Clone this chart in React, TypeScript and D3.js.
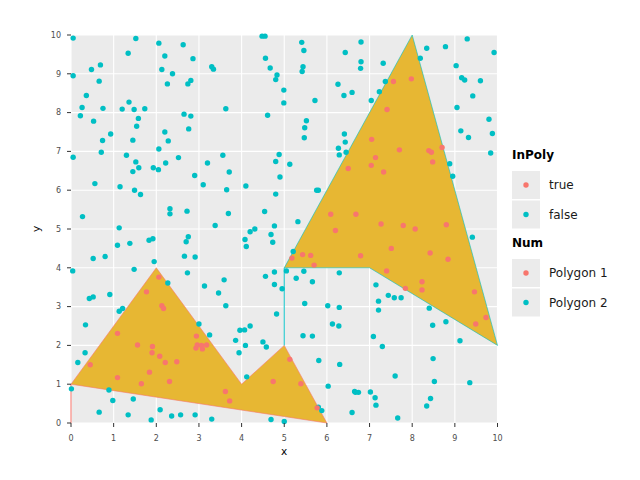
import * as d3 from 'd3';

// polygon outlines (closing spike back to the start point included)
const poly1X = [0, 0, 2, 4, 5, 6, 0];
const poly1Y = [0, 1, 4, 1, 2, 0, 1];
const poly2X = [5, 5, 8, 10, 7, 5];
const poly2Y = [2, 4, 10, 2, 4, 4];

// points outside both polygons (InPoly = false)
const outsidePts: [number, number][] = [
  [0.05, 9.92], [1.52, 9.91], [2.06, 9.79], [2.63, 9.75], [1.34, 9.53], [2.2, 9.46], [2.86, 9.39],
  [0.69, 9.23], [0.48, 9.11], [2.13, 9.11], [2.38, 9.0], [3.3, 9.18], [3.34, 9.12], [0.05, 8.95],
  [0.66, 8.81], [2.26, 8.74], [2.74, 8.74], [2.81, 8.83], [0.36, 8.44], [1.36, 8.27], [0.26, 8.13],
  [0.75, 8.11], [1.2, 8.09], [1.48, 8.08], [1.73, 8.1], [0.22, 7.92], [2.65, 7.96], [2.81, 7.91],
  [1.58, 7.85], [0.53, 7.78], [1.54, 7.65], [2.2, 7.5], [0.93, 7.45], [2.76, 7.58], [0.74, 7.28],
  [2.28, 7.27], [1.45, 7.29], [2.06, 7.06], [0.71, 6.98], [0.05, 6.85], [1.3, 6.9], [2.52, 6.84],
  [2.22, 6.7], [1.52, 6.73], [1.59, 6.58], [1.45, 6.48], [1.93, 6.58], [2.05, 6.53], [3.2, 6.7],
  [2.9, 6.38], [3.1, 6.14], [0.56, 6.17], [1.15, 6.09], [1.49, 6.0], [1.63, 5.89], [2.32, 5.52],
  [2.32, 5.39], [2.72, 5.46], [0.27, 5.32], [1.13, 5.03], [3.38, 5.09],
  [4.48, 9.97], [4.55, 9.97], [5.41, 9.81], [5.46, 9.6], [6.43, 9.55], [4.56, 9.4], [4.67, 9.15],
  [5.44, 9.18], [5.42, 9.06], [4.83, 8.97], [4.8, 8.85], [6.26, 8.73], [4.99, 8.58], [6.4, 8.44],
  [6.59, 8.52], [4.99, 8.25], [5.72, 8.31], [3.63, 8.1], [4.61, 7.93], [5.52, 7.79], [5.48, 7.61],
  [5.47, 7.35], [6.41, 7.45], [6.43, 7.24], [6.27, 7.08], [6.29, 6.91], [6.45, 6.98], [3.56, 6.9],
  [4.88, 6.92], [4.8, 6.74], [5.13, 6.67], [3.71, 6.47], [4.9, 6.34], [4.1, 6.11], [3.65, 6.01],
  [4.8, 5.9], [5.76, 6.0], [5.8, 6.0], [3.69, 5.4], [4.54, 5.45], [4.31, 5.0], [4.2, 4.93],
  [4.77, 5.08], [5.32, 5.19],
  [6.8, 9.82], [9.29, 9.9], [8.34, 9.66], [8.78, 9.7], [9.92, 9.55], [6.8, 9.31], [6.79, 9.14],
  [7.32, 9.27], [8.19, 9.4], [9.03, 9.21], [7.37, 8.8], [7.23, 8.54], [7.04, 8.31], [9.16, 8.9],
  [9.23, 8.84], [9.6, 8.82], [9.42, 8.43], [9.05, 8.13], [9.8, 7.83], [9.14, 7.53], [9.32, 7.36],
  [9.88, 7.46], [9.84, 6.96], [8.88, 6.68], [8.95, 6.36],
  [1.83, 4.71], [1.92, 4.75], [1.09, 4.58], [1.38, 4.63], [2.75, 4.8], [2.7, 4.67], [0.52, 4.24],
  [0.8, 4.29], [2.66, 4.3], [2.91, 4.28], [1.95, 4.16], [0.04, 3.92], [1.48, 3.96], [2.73, 3.87],
  [3.13, 3.53], [2.27, 3.61], [0.43, 3.21], [0.52, 3.25], [0.91, 3.31], [1.13, 2.88], [1.21, 2.95],
  [0.34, 2.53], [3.0, 2.55], [3.25, 2.27], [0.33, 1.81], [0.16, 1.56], [0.01, 0.88], [0.89, 0.85],
  [0.98, 0.58], [1.46, 0.62], [0.66, 0.28], [1.34, 0.21], [2.09, 0.34], [1.88, 0.08], [2.36, 0.18],
  [2.57, 0.21], [2.91, 0.21], [3.3, 0.1],
  [4.08, 4.73], [4.11, 4.55], [4.69, 4.86], [4.73, 4.66], [5.21, 4.42], [5.05, 3.92], [4.77, 3.89],
  [4.77, 3.57], [4.56, 3.78], [4.95, 3.46], [5.28, 3.73], [5.46, 3.91], [5.66, 3.64], [6.29, 3.87],
  [3.59, 3.69], [3.46, 3.35], [3.63, 3.02], [5.48, 3.08], [4.82, 2.81], [6.02, 3.02], [6.29, 2.98],
  [6.13, 2.55], [6.28, 2.5], [5.44, 2.25], [5.66, 2.24], [3.96, 2.39], [4.07, 2.4], [4.2, 2.5],
  [3.86, 2.13], [4.09, 2.0], [3.94, 1.81], [4.5, 2.09], [4.58, 1.96], [5.81, 1.61], [6.3, 1.51],
  [4.12, 1.19], [6.03, 0.95], [6.65, 0.81], [6.59, 0.27], [5.8, 0.41], [5.88, 0.32], [4.69, 0.09],
  [5.0, 0.04],
  [9.41, 4.79], [7.15, 3.56], [7.44, 3.29], [7.58, 3.23], [7.74, 3.23], [7.21, 3.14], [7.21, 2.91],
  [8.4, 2.96], [8.48, 2.52], [8.79, 2.61], [7.09, 2.23], [7.3, 1.97], [9.12, 2.12], [8.49, 1.66],
  [7.6, 1.21], [8.52, 1.07], [9.35, 1.04], [6.67, 0.79], [6.74, 0.79], [7.02, 0.8], [7.13, 0.65],
  [7.15, 0.46], [8.43, 0.63], [8.34, 0.44], [7.66, 0.13],
];

// points inside a polygon (InPoly = true)
const insidePts: [number, number][] = [
  [6.5, 6.56], [6.09, 5.38], [6.68, 5.38], [6.2, 4.96],
  [7.56, 8.8], [7.98, 8.87], [7.41, 8.08], [7.05, 7.31], [7.7, 7.04], [8.39, 7.02], [8.45, 6.98],
  [8.7, 7.1], [7.14, 6.84], [7.04, 6.64], [7.33, 6.47], [8.48, 6.73], [7.27, 5.13], [7.79, 5.09],
  [8.07, 5.0], [8.8, 5.11],
  [2.06, 3.76], [1.77, 3.38], [2.13, 3.02], [2.17, 2.95], [1.09, 2.31], [1.56, 2.01], [1.91, 1.97],
  [1.9, 1.81], [2.08, 1.72], [2.21, 1.56], [2.48, 1.58], [0.45, 1.5], [1.84, 1.31], [1.09, 1.17],
  [1.65, 1.01], [2.31, 1.07], [2.94, 2.24], [2.93, 1.93], [2.96, 2.01], [3.06, 2.0], [3.08, 1.91],
  [3.18, 2.01],
  [5.18, 4.25], [5.43, 4.34], [5.62, 4.32], [5.7, 4.07], [5.13, 1.64], [4.74, 1.07], [5.39, 1.01],
  [3.62, 0.81], [3.72, 0.57], [5.77, 0.39],
  [7.51, 4.5], [6.79, 4.31], [8.42, 4.38], [8.84, 4.22], [7.4, 3.92], [8.23, 3.64], [8.23, 3.43],
  [7.84, 3.47], [9.46, 3.38], [9.49, 2.55], [9.73, 2.72],
];

const ticks = [0, 1, 2, 3, 4, 5, 6, 7, 8, 9, 10];
const inPolyLabels = ['true', 'false'];
const numLabels = ['Polygon 1', 'Polygon 2'];

const RED = '#F8766D';
const CYAN = '#00BFC4';
const FILL = '#E7B733';
const FONT = '"DejaVu Sans", sans-serif';

export default function App() {
  const x = d3.scaleLinear().domain([0, 10]).range([71, 497.5]);
  const y = d3.scaleLinear().domain([0, 10]).range([423, 35]);

  const polyPath = (xs: number[], ys: number[]) =>
    d3.line<number>().x((d) => x(xs[d])).y((d) => y(ys[d]))(xs.map((_, i) => i)) + 'Z';

  const legendKey = (top: number, colors: string[], labels: string[], title: string) => (
    <g>
      <text x={512} y={top} fontFamily={FONT} fontWeight="bold" fontSize={12}>{title}</text>
      {labels.map((lab, i) => {
        const ky = top + 12 + i * 29.5;
        return (
          <g key={lab}>
            <rect x={512} y={ky} width={28} height={28} fill="#EBEBEB" />
            <circle cx={526} cy={ky + 14} r={2.7} fill={colors[i]} />
            <text x={549} y={ky + 14} dy="0.35em" fontFamily={FONT} fontSize={12} fill="#1a1a1a">{lab}</text>
          </g>
        );
      })}
    </g>
  );

  return (
    <svg width={640} height={480} style={{ position: 'absolute', left: 0, top: 0, background: '#fff' }}>
      <rect x={71} y={35} width={426.5} height={388} fill="#EBEBEB" />
      {ticks.map((t) => (
        <g key={t}>
          <line x1={x(t)} x2={x(t)} y1={35} y2={423} stroke="#fff" strokeWidth={1.1} />
          <line x1={71} x2={497.5} y1={y(t)} y2={y(t)} stroke="#fff" strokeWidth={1.1} />
        </g>
      ))}

      <path d={polyPath(poly1X, poly1Y)} fill={FILL} stroke={RED} strokeWidth={0.6} />
      <path d={polyPath(poly2X, poly2Y)} fill={FILL} stroke={CYAN} strokeWidth={0.6} />

      {outsidePts.map((p, i) => (
        <circle key={'o' + i} cx={x(p[0])} cy={y(p[1])} r={2.7} fill={CYAN} />
      ))}
      {insidePts.map((p, i) => (
        <circle key={'i' + i} cx={x(p[0])} cy={y(p[1])} r={2.7} fill={RED} />
      ))}

      {ticks.map((t) => (
        <g key={'ax' + t}>
          <line x1={x(t)} x2={x(t)} y1={423} y2={427} stroke="#333" strokeWidth={1} />
          <text x={x(t)} y={440.5} textAnchor="middle" fontFamily={FONT} fontSize={8} fill="#4D4D4D">{t}</text>
          <line x1={67} x2={71} y1={y(t)} y2={y(t)} stroke="#333" strokeWidth={1} />
          <text x={61} y={y(t)} dy="0.35em" textAnchor="end" fontFamily={FONT} fontSize={8} fill="#4D4D4D">{t}</text>
        </g>
      ))}
      <text x={284} y={455} textAnchor="middle" fontFamily={FONT} fontSize={10.5}>x</text>
      <text transform="translate(40,229) rotate(-90)" textAnchor="middle" fontFamily={FONT} fontSize={10.5}>y</text>

      {legendKey(159, [RED, CYAN], inPolyLabels, 'InPoly')}
      {legendKey(247, [RED, CYAN], numLabels, 'Num')}
    </svg>
  );
}
